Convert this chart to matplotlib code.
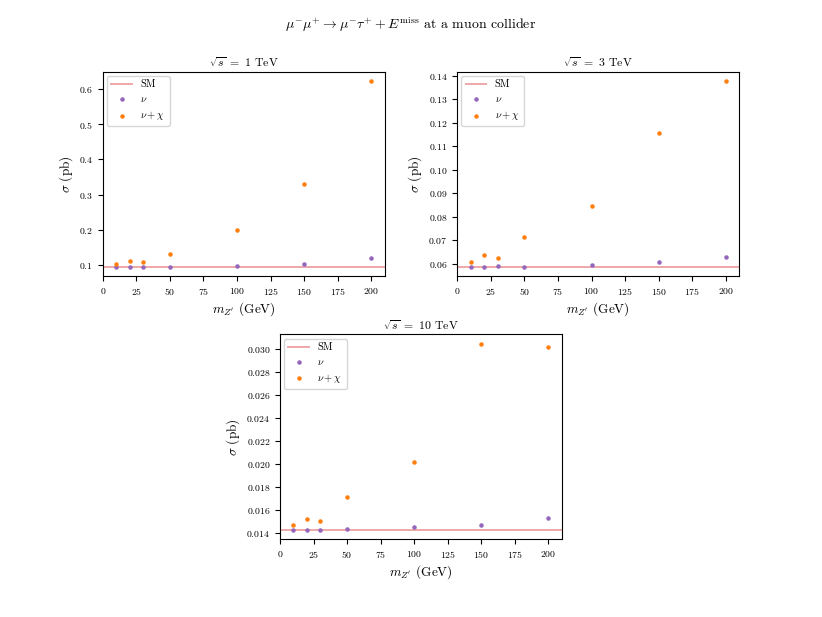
import matplotlib
matplotlib.use("Agg")
import matplotlib.pyplot as plt

plt.rcParams["font.family"] = "serif"
plt.rcParams["font.serif"] = ["cmr10"]
plt.rcParams["mathtext.fontset"] = "cm"
plt.rcParams["axes.unicode_minus"] = False
plt.rcParams["axes.formatter.use_mathtext"] = True

# Z' masses (GeV)
masses = [10, 20, 30, 50, 100, 150, 200]

# sqrt(s) = 1 TeV
sm_1 = 0.093
nu_1 = [0.093, 0.093, 0.093, 0.094, 0.096, 0.103, 0.119]
nuchi_1 = [0.102, 0.1115, 0.107, 0.130, 0.199, 0.330, 0.624]

# sqrt(s) = 3 TeV
sm_3 = 0.0586
nu_3 = [0.0587, 0.0588, 0.0590, 0.0588, 0.0594, 0.0606, 0.0629]
nuchi_3 = [0.0609, 0.0638, 0.0626, 0.0713, 0.0846, 0.1156, 0.1378]

# sqrt(s) = 10 TeV
sm_10 = 0.01430
nu_10 = [0.01427, 0.01430, 0.01430, 0.01433, 0.01450, 0.01471, 0.01527]
nuchi_10 = [0.01468, 0.01524, 0.01507, 0.01714, 0.02016, 0.03050, 0.03021]

energies = ["1", "3", "10"]

fig = plt.figure(figsize=(8.22, 6.17), dpi=100)
fig.suptitle(r"$\mu^{-}\mu^{+} \rightarrow \mu^{-}\tau^{+} + E^{\rm miss}$ at a muon collider",
             fontsize=10, y=0.975)

w, h = 0.343, 0.332
ax1 = fig.add_axes([0.125, 0.552, w, h])
ax2 = fig.add_axes([0.5563, 0.552, w, h])
ax3 = fig.add_axes([0.3406, 0.126, w, h])

panels = [
    (ax1, sm_1, nu_1, nuchi_1, energies[0]),
    (ax2, sm_3, nu_3, nuchi_3, energies[1]),
    (ax3, sm_10, nu_10, nuchi_10, energies[2]),
]

for ax, sm, nu, nuchi, e in panels:
    ax.plot([0, 210], [sm, sm], color="tab:red", alpha=0.4, lw=1.4, label="SM")
    ax.scatter(masses, nu, s=5, color="tab:purple", label=r"$\nu$", zorder=3)
    ax.scatter(masses, nuchi, s=5, color="tab:orange", label=r"$\nu+\chi$", zorder=3)
    ax.set_xlim(0, 210)
    ax.set_title(r"$\sqrt{s}\ =\ %s$ TeV" % e, fontsize=8.5, pad=3)
    ax.set_xlabel(r"$m_{Z'}$ (GeV)", fontsize=9.5, labelpad=2)
    ax.set_ylabel(r"$\sigma$ (pb)", fontsize=9.5, labelpad=3)
    ax.tick_params(labelsize=7, length=3.5)
    ax.legend(loc="upper left", fontsize=7.5, borderaxespad=0.4)

fig.savefig("out.png", dpi=100)
